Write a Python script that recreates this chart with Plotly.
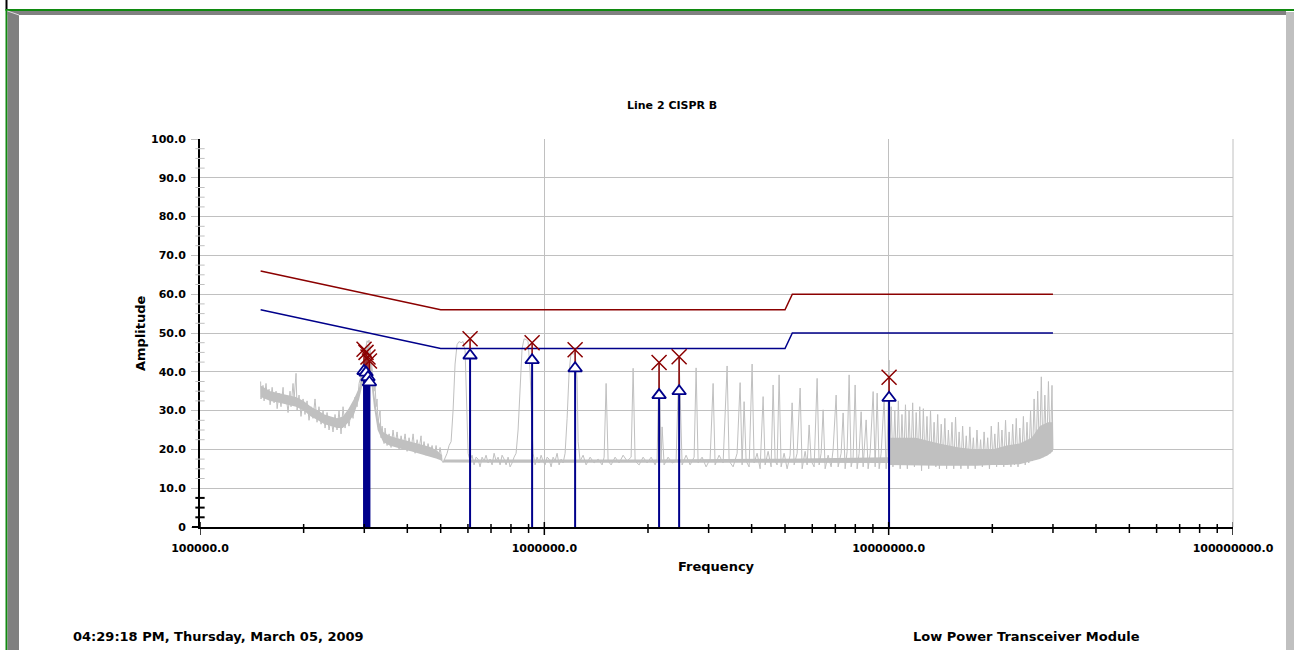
import plotly.graph_objects as go

FONT = "DejaVu Sans"

# ---------------- text ----------------
chart_title = "Line 2 CISPR B"
x_title = "Frequency"
y_title = "Amplitude"
footer_left = "04:29:18 PM, Thursday, March 05, 2009"
footer_right = "Low Power Transceiver Module"

x_tick_vals = [1e5, 1e6, 1e7, 1e8]
x_tick_text = ["100000.0", "1000000.0", "10000000.0", "100000000.0"]
y_tick_vals = [0, 10, 20, 30, 40, 50, 60, 70, 80, 90, 100]
y_tick_text = ["0", "10.0", "20.0", "30.0", "40.0", "50.0", "60.0", "70.0", "80.0", "90.0", "100.0"]

# ---------------- limit lines ----------------
limit_qp_freq = [150e3, 500e3, 5.0e6, 5.25e6, 30e6]
limit_qp_amp = [66, 56, 56, 60, 60]
limit_av_freq = [150e3, 500e3, 5.0e6, 5.25e6, 30e6]
limit_av_amp = [56, 46, 46, 50, 50]

# ---------------- measured points ----------------
meas_freq = [299.5e3, 303.5e3, 307.5e3, 310.5e3, 608.6e3, 921.5e3, 1228.5e3, 2154e3, 2463e3, 10027e3]
meas_qp = [45.8, 45.0, 43.8, 42.8, 48.5, 47.5, 45.7, 42.4, 43.9, 38.6]
meas_av = [40.2, 39.8, 38.6, 37.3, 44.2, 43.0, 40.9, 34.0, 35.0, 33.3]

# ---------------- spectrum trace (kHz, dBuV) ----------------
spec_khz_low = [
    150.0, 150.4, 152.4, 153.5, 155.5, 156.6, 158.7, 159.8, 162.0, 164.1,
    166.3, 167.5, 169.7, 171.9, 174.3, 175.4, 177.8, 180.2, 182.6, 183.8,
    186.3, 187.6, 190.1, 191.4, 193.9, 196.5, 199.2, 201.8, 204.6, 207.3,
    210.1, 212.9, 215.8, 218.7, 221.6, 224.7, 227.7, 230.8, 233.9, 237.0,
    240.2, 243.4, 246.7, 250.0, 253.4, 256.8, 260.3, 263.8, 267.3, 270.9,
    274.6, 278.3, 282.1, 285.9, 289.7, 293.6, 297.5, 301.5, 303.5, 305.6,
    307.6, 309.7, 311.8, 313.9, 316.0, 318.1, 320.3, 322.4, 324.6, 326.7,
    328.9, 333.4, 335.6, 337.9, 342.4, 344.7, 349.4, 354.1, 358.8, 363.6,
    368.5, 373.5, 378.5, 383.7, 388.8, 394.1, 399.4, 404.7, 410.2, 415.8,
    421.4, 427.0, 432.8, 438.5, 441.5, 447.4, 453.4, 459.5, 465.8, 472.1,
    478.4, 484.9, 491.4, 498.0, 504.7, 508.1, 514.9, 521.9, 528.9, 536.0,
    543.2, 550.5, 557.9, 565.4, 573.1, 580.8, 588.7, 596.6, 600.6, 608.6,
    616.8, 625.1, 633.5, 642.1, 650.7, 659.5, 668.3, 677.3, 686.5, 695.8,
    705.2, 714.7, 724.3, 734.0, 743.9, 753.9, 764.1, 774.4, 784.8, 795.3,
    806.0, 816.9, 827.9, 839.0, 850.4, 861.8, 873.4, 885.2, 897.1, 909.2,
    921.5, 927.6, 940.1, 952.8, 965.6, 978.6, 991.8, 1005.0, 1018.6, 1032.3,
    1046.3, 1060.4, 1074.6, 1089.1, 1103.8, 1118.7, 1133.7, 1149.0, 1164.5, 1180.2,
    1196.1, 1212.2, 1228.5, 1245.1, 1253.4,
]
spec_amp_low = [
    37.5, 33, 36.5, 32.5, 37, 34, 35.5, 31.5, 36, 32,
    35, 30.5, 34.5, 31, 36, 32, 34, 29.5, 35, 31,
    37, 33, 39.6, 30, 34, 28.5, 33, 29, 32.5, 27.5,
    31, 28, 33, 27, 31, 26.5, 30, 25.5, 29.5, 25,
    28, 24.5, 29, 25, 30, 24, 31, 25.5, 29, 26,
    30, 28, 33.5, 31, 37, 39, 42, 45, 47, 48,
    47.5, 48.2, 46, 44, 41, 38, 35, 37, 31, 33,
    27, 30, 23, 26, 21.5, 25.5, 21, 24, 20.5, 25,
    21, 24.5, 20, 23.5, 20.5, 24, 19.5, 23, 20, 24,
    19, 22.5, 20, 23.5, 19, 22, 18.5, 21.5, 19, 21,
    18, 21, 17.5, 20.5, 17, 16.6, 18, 19, 21, 22,
    30, 42, 47, 47.8, 47.5, 47.8, 45.5, 30, 19, 17,
    18.5, 16, 18, 17.5, 15.5, 18, 17, 18.5, 16.5, 17.5,
    16, 19, 17, 18, 16, 18.5, 17.5, 16, 18, 15.5,
    16.5, 18, 19, 25, 38, 46, 48.5, 48.3, 47.8, 40,
    25, 19, 16, 18, 16.5, 18.5, 17, 16, 18, 17.5,
    15.5, 18, 17, 19, 16, 17.5, 16.5, 19, 28, 40,
    45, 44.5, 45, 38, 22,
]

spec_khz_mid = [
    1270.3, 1296.1, 1322.3, 1358.1, 1394.9, 1432.8, 1471.7, 1491.5, 1511.6, 1531.9,
    1562.9, 1605.3, 1648.8, 1693.5, 1739.5, 1786.6, 1810.8, 1835.1, 1884.8, 1936.0,
    1988.4, 2042.4, 2097.8, 2126.0, 2154.2, 2183.3, 2197.9, 2227.5, 2287.9, 2349.9,
    2413.7, 2462.6, 2512.5, 2580.6, 2650.6, 2722.5, 2759.3, 2796.3, 2872.1, 2949.9,
    3029.9, 3091.4, 3132.9, 3217.9, 3305.2, 3394.7, 3440.5, 3533.8, 3629.6, 3703.2,
    3753.1, 3803.6, 3854.9, 3933.0, 4012.6, 4066.7, 4149.1, 4233.2, 4319.1, 4377.2,
    4465.9, 4556.4, 4617.9, 4679.9, 4742.9, 4806.9, 4871.6, 4970.3, 5071.0, 5173.9,
    5243.6, 5314.2, 5421.9, 5531.8, 5606.3, 5719.9, 5796.9, 5875.0, 5954.1, 6074.8,
    6197.8, 6281.4, 6366.0, 6452.0, 6538.7, 6671.2, 6806.4, 6898.0, 7038.0, 7132.6,
    7277.2, 7375.5, 7474.5, 7575.2, 7677.3, 7780.7, 7885.5, 7991.6, 8099.2, 8208.3,
    8318.8, 8430.9, 8602.0, 8717.6, 8835.0, 9014.4, 9135.5, 9259.0, 9383.2, 9509.6,
    9702.0, 9833.0, 9898.9, 10026.7,
]
spec_amp_mid = [
    17, 18.5, 16, 18, 16.5, 17.5, 16, 18, 37, 17,
    16, 18, 16.5, 18.5, 17, 18, 40.9, 17, 16, 18,
    16.5, 18, 16, 17.5, 42.5, 17, 25.8, 16, 18, 16.5,
    17, 43.8, 16, 18.5, 16, 18, 41, 16.5, 18, 15.5,
    17.5, 37, 16, 18.5, 16.5, 41.5, 17, 15.5, 19, 37.2,
    16, 32.3, 17, 15.5, 42, 16.5, 19, 15, 33.6, 16,
    19.5, 15.5, 36.6, 17, 16, 39.2, 15.5, 19, 15, 18.5,
    32, 16, 19, 35.8, 15, 19.5, 16, 26.3, 17, 15.5,
    38.3, 16, 19, 30.2, 15, 18.5, 15.5, 20, 34, 15.5,
    19, 29.4, 15, 19.5, 39.2, 15.5, 18, 36.6, 15, 19,
    29.7, 15.5, 27.6, 15, 19, 34.9, 15.5, 34.5, 15, 19,
    33.2, 15, 20, 43,
]

spec_khz_high = [
    10050, 10170, 10290, 10420, 10540, 10670, 10800, 10930, 11060, 11190,
    11330, 11460, 11600, 11740, 11880, 12020, 12170, 12310, 12460, 12610,
    12760, 12920, 13070, 13230, 13390, 13550, 13710, 13880, 14040, 14210,
    14380, 14560, 14730, 14910, 15090, 15270, 15450, 15640, 15830, 16020,
    16210, 16400, 16600, 16800, 17000, 17210, 17410, 17620, 17840, 18050,
    18270, 18490, 18710, 18930, 19160, 19390, 19620, 19860, 20100, 20340,
    20580, 20830, 21080, 21330, 21590, 21850, 22110, 22380, 22650, 22920,
    23190, 23470, 23750, 24040, 24330, 24620, 24920, 25220, 25520, 25830,
    26140, 26450, 26770, 27090, 27420, 27750, 28080, 28420, 28760, 29110,
    29460, 29810, 30000,
]
spec_amp_high = [
    16, 31, 15.5, 30, 16, 32.5, 15, 29, 16.5, 31.5,
    15, 30, 16, 32, 15.5, 29.5, 16, 31, 14.5, 30.5,
    16, 28.5, 15, 30, 16, 27, 15.5, 29, 15, 26.5,
    16, 28, 15, 25, 16.5, 27, 15, 28.3, 16, 24.5,
    15, 26, 16, 23.5, 15, 25.8, 16.5, 23, 15, 25,
    16, 22.5, 15.5, 24.5, 16, 23, 15, 26, 16.5, 24,
    15.5, 27, 16, 25, 15.5, 27.5, 16, 24.5, 15.5, 26.5,
    16, 28, 15.5, 25.5, 16.5, 28.5, 16, 27, 16.5, 30,
    17, 33, 17.5, 35, 18, 38.7, 18, 34, 18.5, 37.5,
    19, 36.5, 20,
]

# solid core of the noise band (where the sweep is too dense to resolve)
core_low_khz = [150, 160, 170, 180, 190, 200, 210, 220, 230, 240, 250, 260, 270, 280,
                290, 297, 303, 309, 314, 320, 328, 340, 355, 370, 390, 410, 430, 450, 470, 490, 505]
core_low_lo = [33.5, 32.5, 32, 31.5, 31, 30, 28.5, 27.5, 26.5, 26, 25.5, 25.5, 27, 29,
               33, 37, 42, 43, 38, 31, 25, 22, 21, 20.5, 20, 19.5, 19, 18.5, 18, 17.5, 17]
core_low_hi = [36.5, 35, 34.5, 34, 33.5, 32.5, 31, 30, 29, 28.5, 28, 28.5, 30.5, 33,
               36, 41, 46, 47, 43, 35, 28, 24.5, 23.5, 23, 22.5, 22, 21.5, 21, 20.5, 19.5, 18.5]

core_mid_khz = [510, 1000, 2000, 5000, 10000]
core_mid_lo = [16.6, 16.6, 16.6, 16.5, 16.5]
core_mid_hi = [17.4, 17.4, 17.4, 17.6, 18.0]

core_high_khz = [10000, 12000, 14000, 16000, 18000, 20000, 22000, 24000, 26000, 27500, 29000, 30000]
core_high_lo = [16, 15.8, 15.8, 15.8, 15.8, 16, 16, 16.2, 17, 17.5, 18.5, 19.5]
core_high_hi = [23, 23, 21.5, 20.5, 20, 20, 21, 21.5, 23, 26, 27, 27]

spec_freq = [k * 1000.0 for k in spec_khz_low + spec_khz_mid + spec_khz_high]
spec_amp = spec_amp_low + spec_amp_mid + spec_amp_high

# ---------------- colours ----------------
GRAY = "#C0C0C0"
RED = "#8B0000"
BLUE = "#00008B"

fig = go.Figure()

for ck, lo, hi in [(core_low_khz, core_low_lo, core_low_hi),
                   (core_mid_khz, core_mid_lo, core_mid_hi),
                   (core_high_khz, core_high_lo, core_high_hi)]:
    f = [k * 1000.0 for k in ck]
    fig.add_trace(go.Scatter(x=f, y=lo, mode="lines", line=dict(color=GRAY, width=0),
                             hoverinfo="skip"))
    fig.add_trace(go.Scatter(x=f, y=hi, mode="lines", line=dict(color=GRAY, width=0),
                             fill="tonexty", fillcolor=GRAY, hoverinfo="skip"))

fig.add_trace(go.Scatter(x=spec_freq, y=spec_amp, mode="lines",
                         line=dict(color=GRAY, width=1), hoverinfo="skip"))
fig.add_trace(go.Scatter(x=limit_qp_freq, y=limit_qp_amp, mode="lines",
                         line=dict(color=RED, width=1.5)))
fig.add_trace(go.Scatter(x=limit_av_freq, y=limit_av_amp, mode="lines",
                         line=dict(color=BLUE, width=1.5)))

# stems
stem_b_x, stem_b_y, stem_r_x, stem_r_y = [], [], [], []
for f, q, a in zip(meas_freq, meas_qp, meas_av):
    stem_b_x += [f, f, None]
    stem_b_y += [0, a, None]
    stem_r_x += [f, f, None]
    stem_r_y += [a, q, None]
fig.add_trace(go.Scatter(x=stem_r_x, y=stem_r_y, mode="lines",
                         line=dict(color=RED, width=1.5), cliponaxis=False))
fig.add_trace(go.Scatter(x=stem_b_x, y=stem_b_y, mode="lines",
                         line=dict(color=BLUE, width=2), cliponaxis=False))
fig.add_trace(go.Scatter(x=meas_freq, y=meas_qp, mode="markers",
                         marker=dict(symbol="x-thin-open", size=15, color=RED,
                                     line=dict(color=RED, width=1.5))))
fig.add_trace(go.Scatter(x=meas_freq, y=meas_av, mode="markers",
                         marker=dict(symbol="triangle-up", size=12, color="white",
                                     line=dict(color=BLUE, width=1.8))))

# ---------------- geometry helpers (paper coords from pixel layout) ----------------
L, R, T, B = 200, 1233, 139, 527
W_PLOT, H_PLOT = R - L, B - T


def px(xp):
    return (xp - L) / W_PLOT


def py(yp):
    return (B - yp) / H_PLOT


shapes = []
# y minor ticks (crossing the axis)
for i in range(1, 40):
    v = i * 2.5
    if abs(v % 10) < 1e-9:
        continue
    col = "black" if v < 10 else GRAY
    wid = 2 if v < 10 else 1
    shapes.append(dict(type="line", xref="x domain", yref="y", x0=-0.0045, x1=0.0045,
                       y0=v, y1=v, line=dict(color=col, width=wid), layer="above"))
# x minor / major ticks
for n in range(5, 8):
    for k in range(2, 10):
        v = k * 10 ** n
        shapes.append(dict(type="line", xref="x", yref="y domain", x0=v, x1=v,
                           y0=-6 / H_PLOT, y1=3 / H_PLOT, line=dict(color="black", width=1.5),
                           layer="above"))
for v in x_tick_vals:
    shapes.append(dict(type="line", xref="x", yref="y domain", x0=v, x1=v,
                       y0=-8 / H_PLOT, y1=5 / H_PLOT, line=dict(color="black", width=1.5),
                       layer="above"))
# right border gridline
shapes.append(dict(type="line", xref="paper", yref="paper", x0=1, x1=1, y0=0, y1=1,
                   line=dict(color=GRAY, width=1)))
# x axis extension left
shapes.append(dict(type="line", xref="paper", yref="paper", x0=px(192), x1=0, y0=0, y1=0,
                   line=dict(color="black", width=2)))


# frame decoration
def rect(x0, y0, x1, y1, color):
    return dict(type="rect", xref="paper", yref="paper", x0=px(x0), x1=px(x1),
                y0=py(y1), y1=py(y0), line=dict(width=0), fillcolor=color, layer="above")


shapes.append(rect(5.5, 0, 7.5, 9.5, "black"))
shapes.append(rect(5.5, 9, 1294, 11, "#108A10"))
shapes.append(rect(5.5, 9, 7.5, 650, "#108A10"))
shapes.append(rect(7.5, 11, 1286, 15, "#808080"))
shapes.append(rect(7.5, 11, 19, 650, "#808080"))
shapes.append(rect(1286, 12, 1294, 650, "#C0C0C0"))
shapes.append(dict(type="line", xref="paper", yref="paper", x0=px(7.5), y0=py(11),
                   x1=px(19), y1=py(15), line=dict(color="#E0E0E0", width=1), layer="above"))

annotations = [
    dict(text=f"<b>{chart_title}</b>", x=px(672), y=py(105), xref="paper", yref="paper",
         showarrow=False, xanchor="center", yanchor="middle",
         font=dict(family=FONT, size=11, color="black")),
    dict(text=f"<b>{x_title}</b>", x=px(716), y=py(566), xref="paper", yref="paper",
         showarrow=False, xanchor="center", yanchor="middle",
         font=dict(family=FONT, size=13, color="black")),
    dict(text=f"<b>{y_title}</b>", x=px(140), y=py(333), xref="paper", yref="paper",
         showarrow=False, xanchor="center", yanchor="middle", textangle=-90,
         font=dict(family=FONT, size=13, color="black")),
    dict(text=f"<b>{footer_left}</b>", x=px(71), y=py(636), xref="paper", yref="paper",
         showarrow=False, xanchor="left", yanchor="middle",
         font=dict(family=FONT, size=13, color="black")),
    dict(text=f"<b>{footer_right}</b>", x=px(911), y=py(636), xref="paper", yref="paper",
         showarrow=False, xanchor="left", yanchor="middle",
         font=dict(family=FONT, size=13, color="black")),
]

fig.update_layout(
    width=1294, height=650,
    margin=dict(l=L, r=1294 - R, t=T, b=650 - B, pad=0),
    paper_bgcolor="white", plot_bgcolor="white",
    showlegend=False,
    shapes=shapes,
    annotations=annotations,
    xaxis=dict(type="log", range=[5, 8], tickvals=x_tick_vals, ticktext=x_tick_text,
               showgrid=True, gridcolor=GRAY, gridwidth=1,
               showline=True, linecolor="black", linewidth=2,
               ticks="", zeroline=False, ticklabelstandoff=10,
               tickfont=dict(family=FONT, size=11, color="black", weight="bold")),
    yaxis=dict(range=[0, 100], tickvals=y_tick_vals, ticktext=y_tick_text,
               showgrid=True, gridcolor=GRAY, gridwidth=1,
               showline=True, linecolor="black", linewidth=2,
               ticks="outside", ticklen=7, tickcolor=GRAY, tickwidth=1,
               zeroline=False, ticklabelstandoff=3,
               tickfont=dict(family=FONT, size=11, color="black", weight="bold")),
)

fig.write_html("out.html", config={"displayModeBar": False},
               post_script="document.body.style.margin='0';")
